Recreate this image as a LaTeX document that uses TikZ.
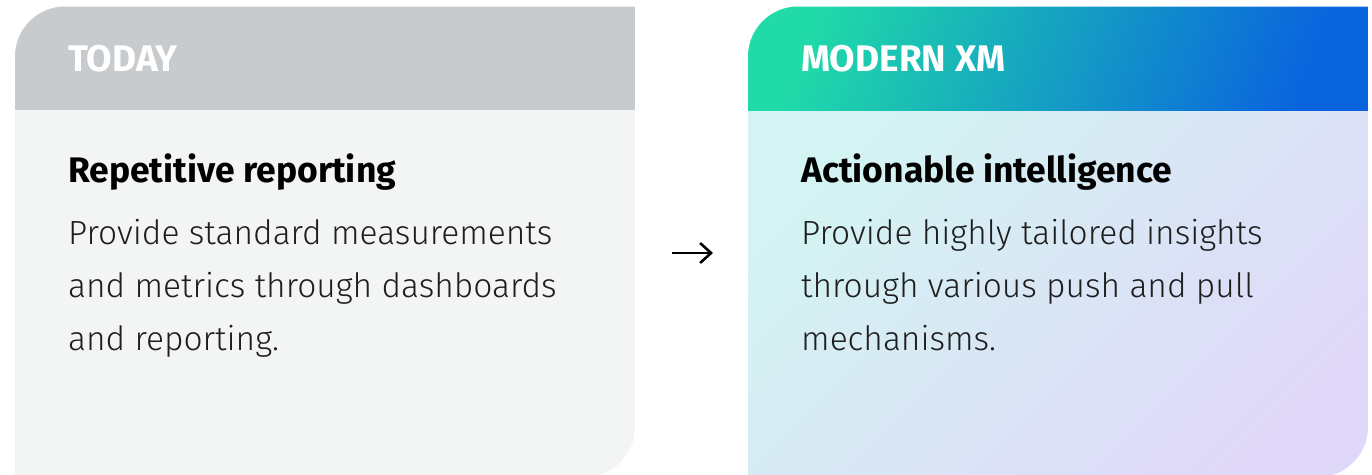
\documentclass[tikz,border=0pt]{standalone}
\usepackage{fontspec}
\setmainfont{Fira Sans}[UprightFont=* Light, BoldFont=* Bold]
\newfontfamily\headfont{Fira Sans}[UprightFont=* Bold]
\usetikzlibrary{arrows.meta}

\definecolor{cardGrayHead}{RGB}{200,203,206}
\definecolor{cardGrayBody}{RGB}{243,245,244}
\definecolor{xmGreen}{RGB}{32,218,168}
\definecolor{xmCyan}{RGB}{0,180,232}
\definecolor{xmBlue}{RGB}{10,100,222}
\definecolor{xmMint}{RGB}{211,244,242}
\definecolor{xmSky}{RGB}{210,230,247}
\definecolor{xmLilac}{RGB}{224,216,248}
\definecolor{cardText}{RGB}{30,30,30}

\tikzset{
  headlabel/.style={anchor=base west, inner sep=0pt, text=white,
    font=\headfont\fontsize{37}{40}\selectfont},
  titlelabel/.style={anchor=base west, inner sep=0pt, text=black,
    font=\bfseries\fontsize{35.5}{40}\selectfont},
  bodylabel/.style={anchor=base west, inner sep=0pt, text=cardText, align=left,
    font=\fontsize{33.5}{53}\selectfont},
}

% card outline: rounded top-left and bottom-right corners only
\newcommand\cardpath[2]{%
  (#1,477) -- (#1,56.5) .. controls (#1,28.9) and (#1+22.4,6.5) .. (#1+50,6.5)
  -- (#2,6.5) -- (#2,427) .. controls (#2,454.6) and (#2-22.4,477) .. (#2-50,477)
  -- cycle}

\begin{document}
\begin{tikzpicture}[x=1pt, y=-1pt]
  \useasboundingbox (0,0) rectangle (1372,474);

  % today card
  \begin{scope}
    \clip \cardpath{15}{635};
    \fill[cardGrayBody] (15,0) rectangle (635,480);
    \fill[cardGrayHead] (15,0) rectangle (635,110);
  \end{scope}
  \node[headlabel] (todayHead) at (68,71) {TODAY};
  \node[titlelabel] (todayTitle) at (68,182) {Repetitive reporting};
  % body text hangs from the baseline of its last line
  \node[bodylabel] (todayText) at (68,350)
    {Provide standard measurements\\and metrics through dashboards\\and reporting.};

  % modern xm card
  \begin{scope}
    \clip \cardpath{748}{1368};
    \shade[left color=xmMint, middle color=xmSky, right color=xmLilac, shading angle=45]
      (748,110) rectangle (1368,480);
    \shade[left color=xmGreen, middle color=xmCyan, right color=xmBlue, shading angle=70]
      (748,0) rectangle (1368,110);
  \end{scope}
  \node[headlabel] (xmHead) at (801,71) {MODERN XM};
  \node[titlelabel] (xmTitle) at (801,182) {Actionable intelligence};
  \node[bodylabel] (xmText) at (801,350)
    {Provide highly tailored insights\\through various push and pull\\mechanisms.};

  % arrow between the cards
  \coordinate (arrowFrom) at (672,253);
  \coordinate (arrowTo) at (713,253);
  \draw[line width=2.6pt, -{Straight Barb[length=11pt, width=20pt]}] (arrowFrom) -- (arrowTo);
\end{tikzpicture}
\end{document}
